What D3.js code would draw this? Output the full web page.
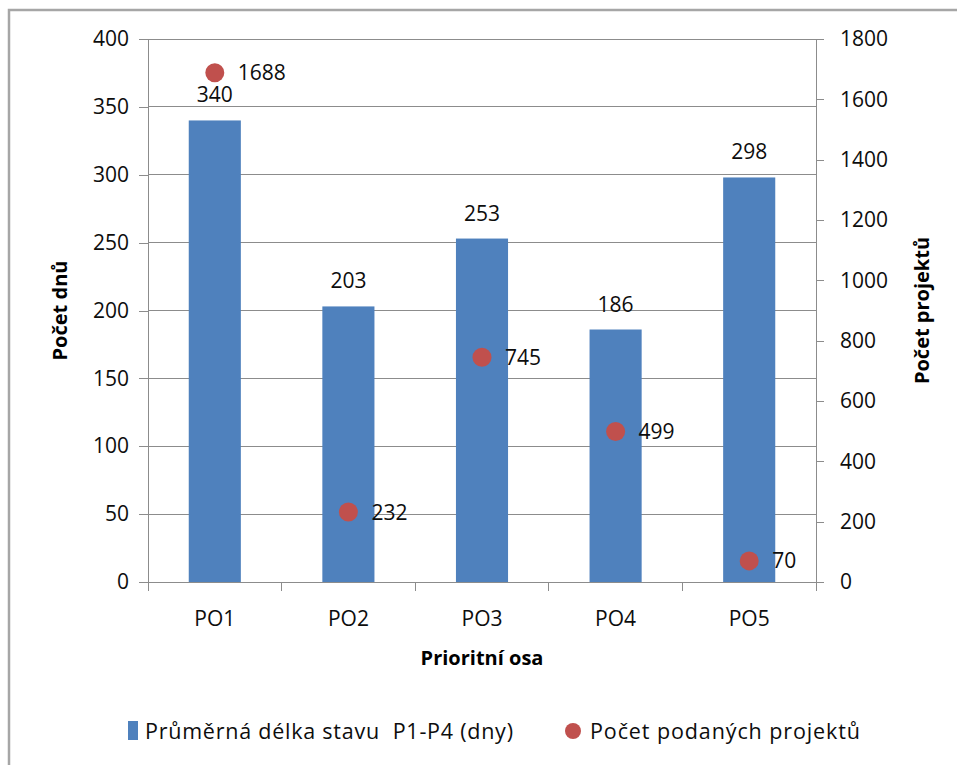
<!DOCTYPE html>
<html>
<head>
<meta charset="utf-8">
<script src="https://cdn.jsdelivr.net/npm/d3@7"></script>
<style>
  html, body { margin: 0; padding: 0; background: #fff; }
  svg { display: block; font-family: "Open Sans", "Noto Sans", sans-serif; }
</style>
</head>
<body>
<svg id="chart" width="957" height="765"></svg>
<script>
const categories = ["PO1", "PO2", "PO3", "PO4", "PO5"];
const barValues = [340, 203, 253, 186, 298];
const dotValues = [1688, 232, 745, 499, 70];
const leftTicks = [0, 50, 100, 150, 200, 250, 300, 350, 400];
const rightTicks = [0, 200, 400, 600, 800, 1000, 1200, 1400, 1600, 1800];
const barSeriesName = "Průměrná délka stavu  P1-P4 (dny)";
const dotSeriesName = "Počet podaných projektů";
const xTitle = "Prioritní osa";
const yLeftTitle = "Počet dnů";
const yRightTitle = "Počet projektů";

const svg = d3.select("#chart");
const M = { left: 148, right: 816, top: 39, bottom: 582 };
const barColor = "#4F81BD", dotColor = "#C0504D", gridColor = "#8C8C8C", textColor = "#0d0d0d";

// frame
svg.append("path").attr("d", "M9,765 L9,10 L957,10").attr("fill", "none")
  .attr("stroke", "#A6A6A6").attr("stroke-width", 2.5);

const x = d3.scaleBand().domain(categories).range([M.left, M.right]).paddingInner(0.61).paddingOuter(0.305);
const xb = d3.scaleBand().domain(categories).range([M.left, M.right]);
const yL = d3.scaleLinear().domain([0, 400]).range([M.bottom, M.top]);
const yR = d3.scaleLinear().domain([0, 1800]).range([M.bottom, M.top]);

// gridlines
svg.append("g").selectAll("line").data(leftTicks.filter(d => d > 0)).join("line")
  .attr("x1", M.left).attr("x2", M.right)
  .attr("y1", d => yL(d)).attr("y2", d => yL(d))
  .attr("stroke", gridColor).attr("stroke-width", 1).attr("shape-rendering", "crispEdges");

// left axis
const gL = svg.append("g").attr("transform", `translate(${M.left},0)`)
  .call(d3.axisLeft(yL).tickValues(leftTicks).tickSize(9).tickPadding(10).tickFormat(d3.format("d")));
// right axis
const gR = svg.append("g").attr("transform", `translate(${M.right},0)`)
  .call(d3.axisRight(yR).tickValues(rightTicks).tickSize(8).tickPadding(16).tickFormat(d3.format("d")));
// bottom axis
const gB = svg.append("g").attr("transform", `translate(0,${M.bottom})`)
  .call(d3.axisBottom(xb).tickSize(0).tickPadding(29));
// category tick marks at band boundaries
svg.append("g").selectAll("line").data(categories.concat(["end"])).join("line")
  .attr("x1", (d, i) => M.left + i * xb.step()).attr("x2", (d, i) => M.left + i * xb.step())
  .attr("y1", M.bottom).attr("y2", M.bottom + 9)
  .attr("stroke", gridColor).attr("shape-rendering", "crispEdges");

[gL, gR, gB].forEach(g => {
  g.select(".domain").attr("stroke", gridColor).attr("shape-rendering", "crispEdges");
  g.selectAll(".tick line").attr("stroke", gridColor).attr("shape-rendering", "crispEdges");
  g.selectAll(".tick text").attr("fill", textColor).attr("font-size", 21)
    .attr("font-family", '"Open Sans", sans-serif');
});
gB.select(".domain").attr("d", `M${M.left},0H${M.right}`);

// bars
svg.append("g").selectAll("rect").data(categories).join("rect")
  .attr("x", d => x(d)).attr("width", x.bandwidth())
  .attr("y", (d, i) => yL(barValues[i]))
  .attr("height", (d, i) => M.bottom - yL(barValues[i]))
  .attr("fill", barColor);

// bar labels
svg.append("g").selectAll("text").data(categories).join("text")
  .attr("x", d => x(d) + x.bandwidth() / 2)
  .attr("y", (d, i) => yL(barValues[i]) - 18)
  .attr("text-anchor", "middle").attr("font-size", 21).attr("fill", textColor)
  .text((d, i) => barValues[i]);

// dots
svg.append("g").selectAll("circle").data(categories).join("circle")
  .attr("cx", d => xb(d) + xb.bandwidth() / 2)
  .attr("cy", (d, i) => yR(dotValues[i]))
  .attr("r", 9.5).attr("fill", dotColor);

// dot labels
svg.append("g").selectAll("text").data(categories).join("text")
  .attr("x", d => xb(d) + xb.bandwidth() / 2 + 23)
  .attr("y", (d, i) => yR(dotValues[i]))
  .attr("dy", "0.36em")
  .attr("font-size", 21).attr("fill", textColor)
  .text((d, i) => dotValues[i]);

// axis titles
svg.append("text").attr("x", 482).attr("y", 665).attr("text-anchor", "middle")
  .attr("font-size", 20).attr("font-weight", "bold").attr("fill", "#000").text(xTitle);
svg.append("text").attr("transform", `translate(67,${(M.top + M.bottom) / 2}) rotate(-90)`)
  .attr("text-anchor", "middle").attr("font-size", 20).attr("font-weight", "bold").attr("fill", "#000").text(yLeftTitle);
svg.append("text").attr("transform", `translate(929,${(M.top + M.bottom) / 2}) rotate(-90)`)
  .attr("text-anchor", "middle").attr("font-size", 20).attr("font-weight", "bold").attr("fill", "#000").text(yRightTitle);

// legend
const lg = svg.append("g");
lg.append("rect").attr("x", 128).attr("y", 721).attr("width", 10).attr("height", 19).attr("fill", barColor);
lg.append("text").attr("x", 145).attr("y", 731).attr("dy", "0.36em").attr("font-size", 21.5)
  .attr("fill", textColor).style("white-space", "pre")
  .attr("textLength", 368).attr("lengthAdjust", "spacing").text(barSeriesName);
lg.append("circle").attr("cx", 573).attr("cy", 731).attr("r", 8).attr("fill", dotColor);
lg.append("text").attr("x", 590).attr("y", 731).attr("dy", "0.36em").attr("font-size", 21.5)
  .attr("fill", textColor)
  .attr("textLength", 270).attr("lengthAdjust", "spacing").text(dotSeriesName);
</script>
</body>
</html>
